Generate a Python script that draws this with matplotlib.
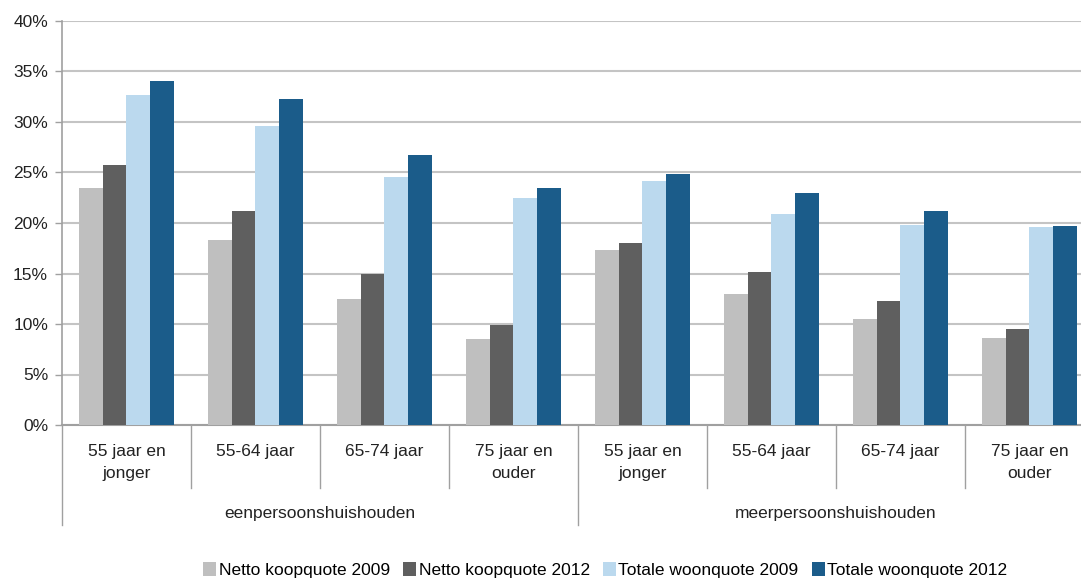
import numpy as np
import matplotlib
matplotlib.use("Agg")
import matplotlib.pyplot as plt
from matplotlib.transforms import blended_transform_factory

plt.rcParams["font.family"] = ["Liberation Sans", "DejaVu Sans"]

# data (percent)
age_labels = ["55 jaar en\njonger", "55-64 jaar", "65-74 jaar", "75 jaar en\nouder"] * 2
household = ["eenpersoonshuishouden", "meerpersoonshuishouden"]
series = ["Netto koopquote 2009", "Netto koopquote 2012",
          "Totale woonquote 2009", "Totale woonquote 2012"]
netto_2009 = [23.5, 18.3, 12.5, 8.5, 17.3, 13.0, 10.5, 8.6]
netto_2012 = [25.7, 21.2, 15.0, 9.9, 18.0, 15.1, 12.3, 9.5]
totaal_2009 = [32.7, 29.6, 24.6, 22.5, 24.2, 20.9, 19.8, 19.6]
totaal_2012 = [34.1, 32.3, 26.7, 23.5, 24.9, 23.0, 21.2, 19.7]
colors = ["#BFBFBF", "#5F5F5F", "#BBD9EE", "#1B5C8A"]
FS = 12.5

fig = plt.figure(figsize=(10.81, 5.8), dpi=100)
ax = fig.add_axes([62 / 1081, 155 / 580, 1 - 62 / 1081, 404 / 580])

x = np.arange(len(age_labels))
w = 0.185
values = [netto_2009, netto_2012, totaal_2009, totaal_2012]
for i, (vals, name, c) in enumerate(zip(values, series, colors)):
    ax.bar(x + (i - 1.5) * w, vals, w, color=c, label=name, zorder=3)

ax.set_xlim(-0.5, 7.4)
ax.set_ylim(0, 40)
ax.set_yticks(np.arange(0, 41, 5))
ax.set_yticklabels([f"{v}%" for v in range(0, 41, 5)], fontsize=FS, color="#222222")
ax.yaxis.grid(True, color="#C4C4C4", linewidth=1.5, zorder=0)
ax.tick_params(axis="y", length=5, width=1, color="#A0A0A0", pad=5)
ax.set_xticks([])
for s in ["top", "right"]:
    ax.spines[s].set_visible(False)
ax.spines["left"].set_color("#A0A0A0")
ax.spines["bottom"].set_color("#A0A0A0")
ax.spines["left"].set_linewidth(1.2)
ax.spines["bottom"].set_linewidth(1.5)

# multi-level category axis
tr = blended_transform_factory(ax.transData, ax.transAxes)
for b in np.arange(-0.5, 8.0, 1.0):
    low = -0.248 if b in (-0.5, 3.5, 7.5) else -0.156
    ax.plot([b, b], [0, low], transform=tr, color="#A0A0A0", lw=1, clip_on=False)
for xi, lab in zip(x, age_labels):
    ax.text(xi, -0.046, lab, transform=tr, ha="center", va="top",
            fontsize=FS, linespacing=1.6, color="#222222")
for gi, lab in enumerate(household):
    ax.text(gi * 4 + 1.5, -0.22, lab, transform=tr, ha="center", va="center",
            fontsize=FS, color="#222222")

fig.legend(loc="center", bbox_to_anchor=(0.56, 0.017), ncol=4, frameon=False,
           fontsize=FS, handlelength=0.75, handleheight=0.9, handletextpad=0.15,
           columnspacing=0.75)

fig.savefig("out.png", dpi=100)
